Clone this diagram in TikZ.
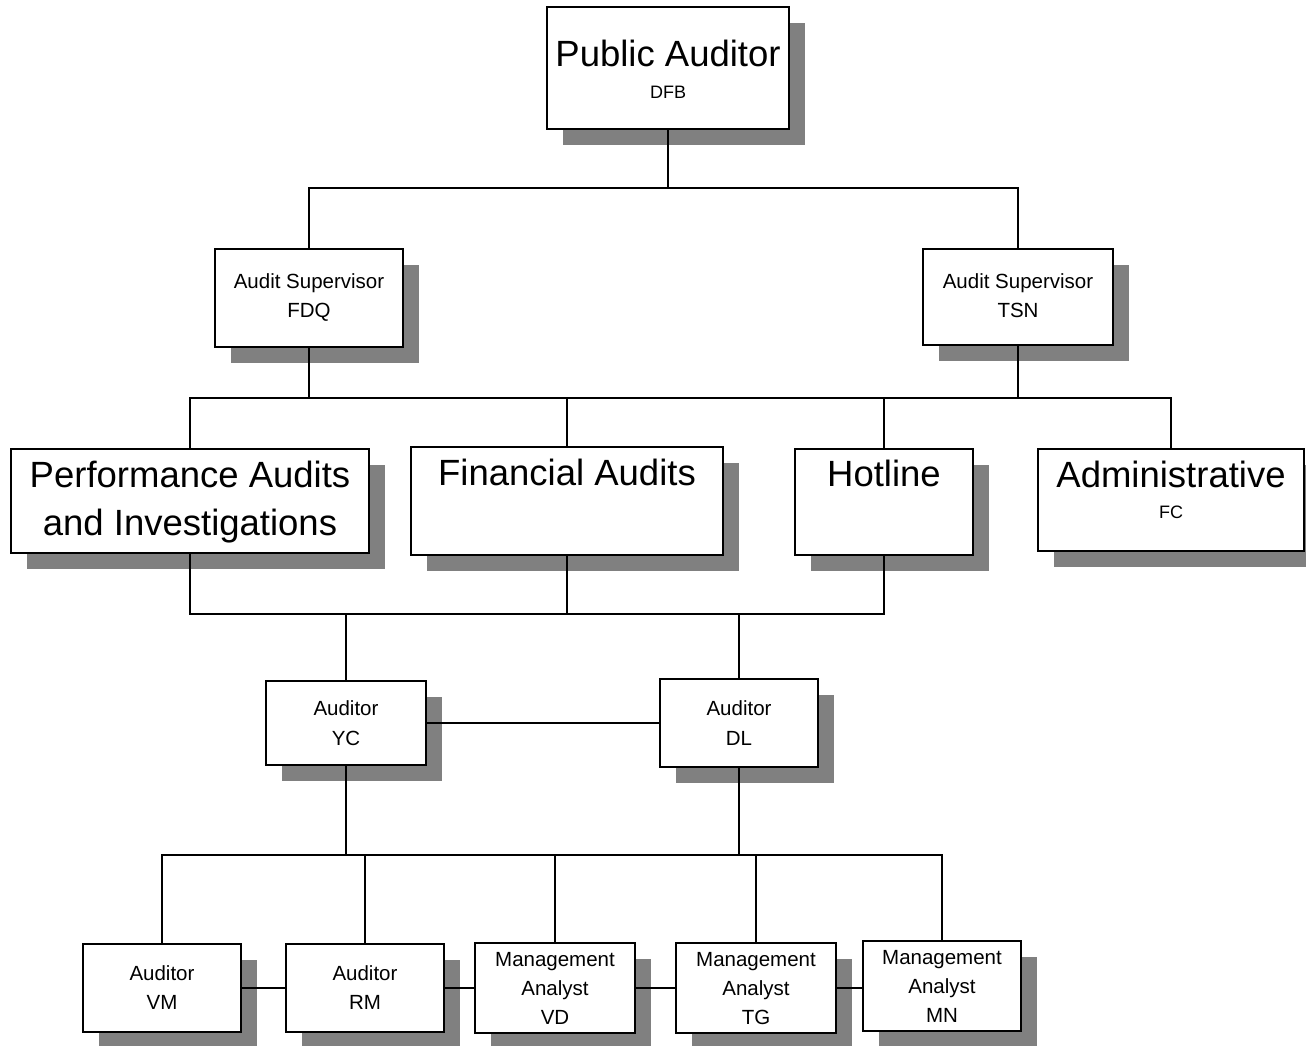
\documentclass[tikz,border=0pt]{standalone}
\usepackage{fontspec}
\setmainfont{Liberation Sans}
\usetikzlibrary{shadows}
\definecolor{shgray}{RGB}{128,128,128}
\tikzset{
  orgbox/.style={draw=black, line width=2pt, fill=white, inner sep=0pt,
    drop shadow={shadow xshift=16pt, shadow yshift=-16pt, fill=shgray, opacity=1}},
  bigtxt/.style={font=\fontsize{36.5}{40}\selectfont, anchor=base, inner sep=0pt},
  smalltxt/.style={font=\fontsize{20.5}{24}\selectfont, anchor=base, inner sep=0pt},
  tinytxt/.style={font=\fontsize{18}{22}\selectfont, anchor=base, inner sep=0pt},
  conn/.style={draw=black, line width=2pt}
}
\newcommand\orgbx[5]{\node[orgbox, minimum width={(#4-#2)*1pt}, minimum height={(#5-#3)*1pt}] (#1) at ({(#2+#4)/2},{(#3+#5)/2}) {};}
\newcommand\orgtx[5]{\node[#2] (#1) at (#3,#4) {#5};}
\begin{document}
\begin{tikzpicture}[x=1pt,y=-1pt]
\useasboundingbox (0,0) rectangle (1306,1045);
% boxes
\orgbx{pa}{547}{7}{789}{129}
\orgbx{fdq}{215}{249}{403}{347}
\orgbx{tsn}{923}{249}{1113}{345}
\orgbx{pai}{11}{449}{369}{553}
\orgbx{fa}{411}{447}{723}{555}
\orgbx{hl}{795}{449}{973}{555}
\orgbx{ad}{1038}{449}{1304}{551}
\orgbx{yc}{266}{681}{426}{765}
\orgbx{dl}{660}{679}{818}{767}
\orgbx{vm}{83}{944}{241}{1032}
\orgbx{rm}{286}{944}{444}{1032}
\orgbx{vd}{475}{943}{635}{1033}
\orgbx{tg}{676}{943}{836}{1033}
\orgbx{mn}{863}{941}{1021}{1031}
% texts
\orgtx{pa1}{bigtxt}{668}{66}{Public Auditor}
\orgtx{pa2}{tinytxt}{668}{98}{DFB}
\orgtx{fdq1}{smalltxt}{309}{288}{Audit Supervisor}
\orgtx{fdq2}{smalltxt}{309}{317}{FDQ}
\orgtx{tsn1}{smalltxt}{1018}{288}{Audit Supervisor}
\orgtx{tsn2}{smalltxt}{1018}{317}{TSN}
\orgtx{pai1}{bigtxt}{190}{487}{Performance Audits}
\orgtx{pai2}{bigtxt}{190}{535}{and Investigations}
\orgtx{fa1}{bigtxt}{567}{485}{Financial Audits}
\orgtx{hl1}{bigtxt}{884}{486}{Hotline}
\orgtx{ad1}{bigtxt}{1171}{487}{Administrative}
\orgtx{ad2}{tinytxt}{1171}{518}{FC}
\orgtx{yc1}{smalltxt}{346}{715}{Auditor}
\orgtx{yc2}{smalltxt}{346}{745}{YC}
\orgtx{dl1}{smalltxt}{739}{715}{Auditor}
\orgtx{dl2}{smalltxt}{739}{745}{DL}
\orgtx{vm1}{smalltxt}{162}{980}{Auditor}
\orgtx{vm2}{smalltxt}{162}{1009}{VM}
\orgtx{rm1}{smalltxt}{365}{980}{Auditor}
\orgtx{rm2}{smalltxt}{365}{1009}{RM}
\orgtx{vd1}{smalltxt}{555}{966}{Management}
\orgtx{vd2}{smalltxt}{555}{995}{Analyst}
\orgtx{vd3}{smalltxt}{555}{1024}{VD}
\orgtx{tg1}{smalltxt}{756}{966}{Management}
\orgtx{tg2}{smalltxt}{756}{995}{Analyst}
\orgtx{tg3}{smalltxt}{756}{1024}{TG}
\orgtx{mn1}{smalltxt}{942}{964}{Management}
\orgtx{mn2}{smalltxt}{942}{993}{Analyst}
\orgtx{mn3}{smalltxt}{942}{1022}{MN}
% bus levels
\coordinate (b1) at (0,188);
\coordinate (b2) at (0,398);
\coordinate (b3) at (0,614);
\coordinate (b4) at (0,855);
% connectors
\draw[conn] (pa.south) -- (pa.south |- b1);
\draw[conn] (fdq.north) -- (fdq.north |- b1) -- (tsn.north |- b1) -- (tsn.north);
\draw[conn] (fdq.south) -- (fdq.south |- b2);
\draw[conn] (tsn.south) -- (tsn.south |- b2);
\draw[conn] (pai.north) -- (pai.north |- b2) -- (ad.north |- b2) -- (ad.north);
\draw[conn] (fa.north) -- (fa.north |- b2);
\draw[conn] (hl.north) -- (hl.north |- b2);
\draw[conn] (pai.south) -- (pai.south |- b3) -- (hl.south |- b3) -- (hl.south);
\draw[conn] (fa.south) -- (fa.south |- b3);
\draw[conn] (yc.north) -- (yc.north |- b3);
\draw[conn] (dl.north) -- (dl.north |- b3);
\draw[conn] (yc.east) -- (yc.east -| dl.west);
\draw[conn] (yc.south) -- (yc.south |- b4);
\draw[conn] (dl.south) -- (dl.south |- b4);
\draw[conn] (vm.north) -- (vm.north |- b4) -- (mn.north |- b4) -- (mn.north);
\draw[conn] (rm.north) -- (rm.north |- b4);
\draw[conn] (vd.north) -- (vd.north |- b4);
\draw[conn] (tg.north) -- (tg.north |- b4);
\draw[conn] (vm.east) -- (vm.east -| rm.west);
\draw[conn] (rm.east) -- (rm.east -| vd.west);
\draw[conn] (vd.east) -- (vd.east -| tg.west);
\draw[conn] (tg.east) -- (tg.east -| mn.west);
\end{tikzpicture}
\end{document}
